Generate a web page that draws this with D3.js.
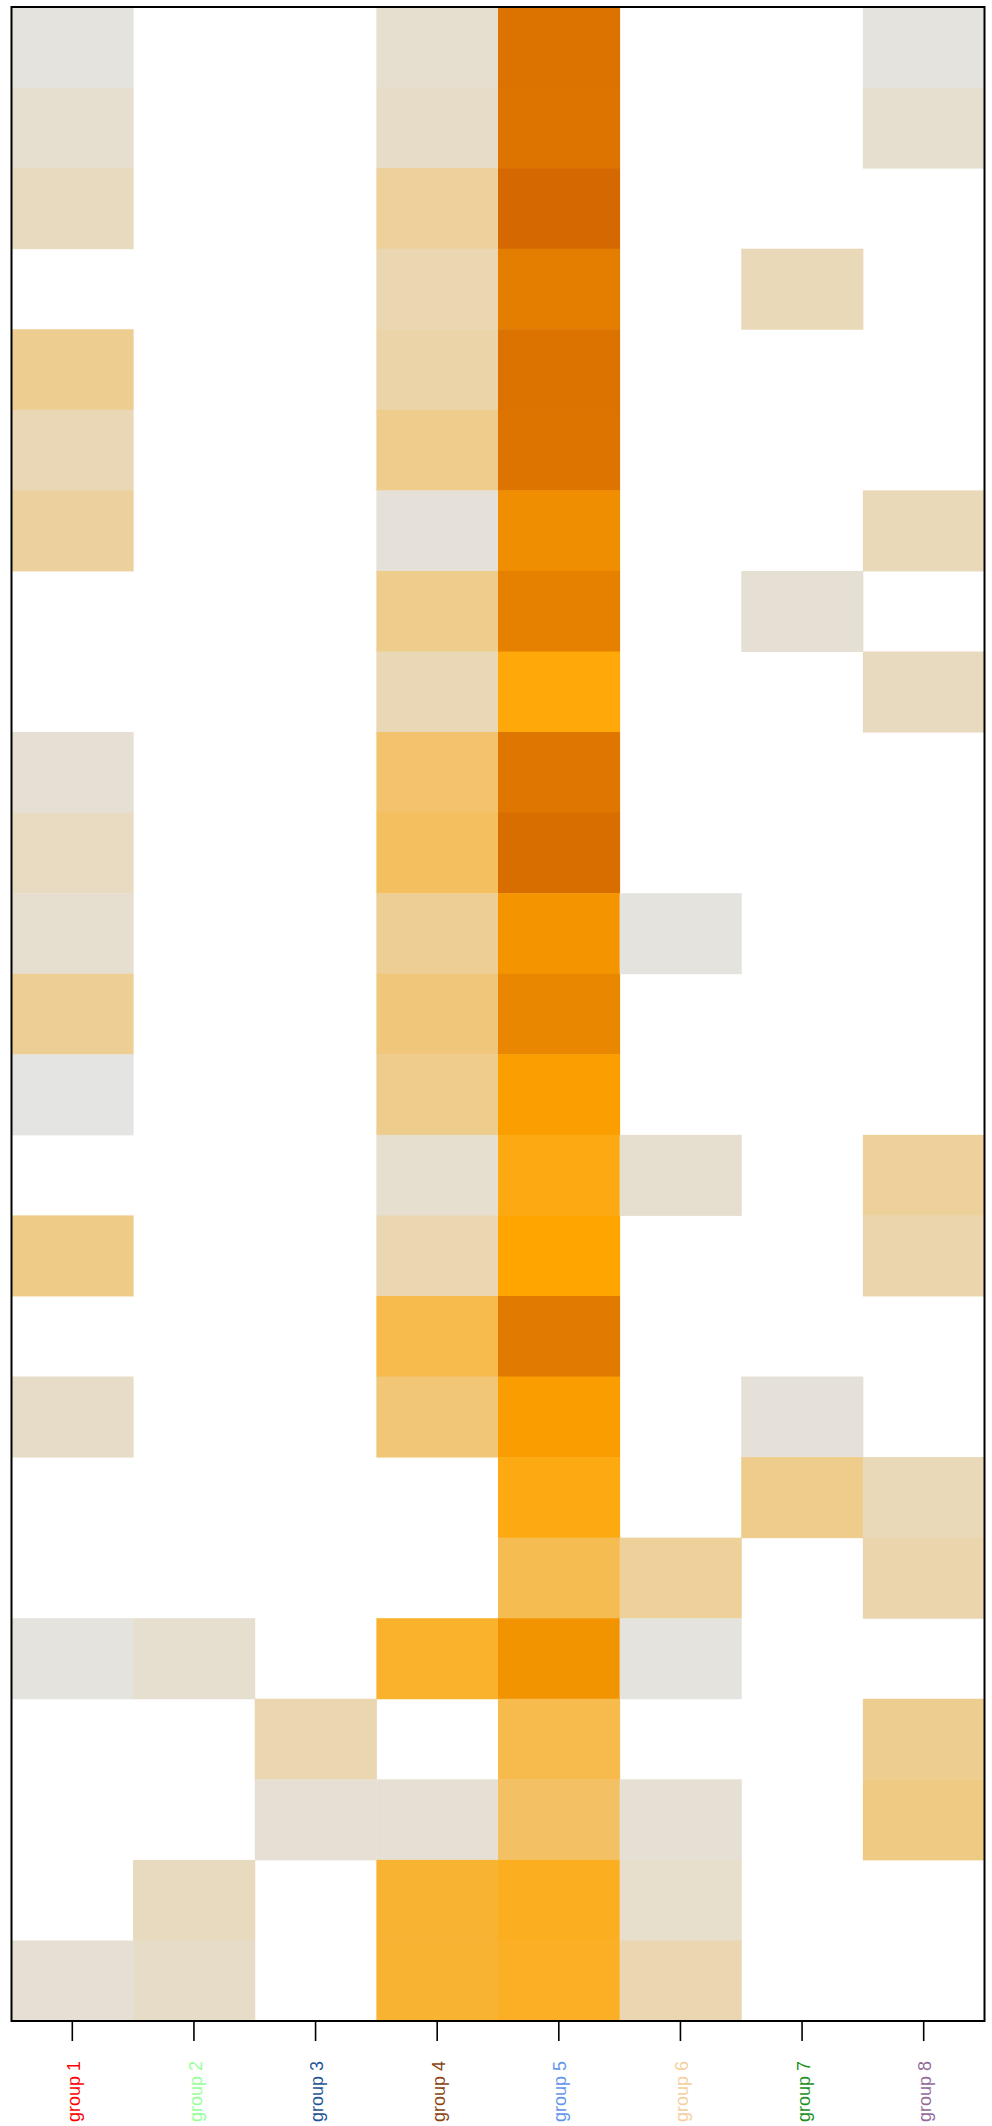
<!DOCTYPE html>
<html>
<head>
<meta charset="utf-8">
<script src="https://cdn.jsdelivr.net/npm/d3@7"></script>
<style>
  body { margin: 0; background: #fff; }
  svg { display: block; }
  .lbl text { font-family: "Liberation Sans", Arial, sans-serif; font-size: 18px; }
</style>
</head>
<body>
<div id="chart"></div>
<script>
// column groups and their label colours
var groups = ["group 1", "group 2", "group 3", "group 4", "group 5", "group 6", "group 7", "group 8"];
var groupColors = ["#ff0000", "#99ff99", "#1f5596", "#8b4513", "#6495ed", "#f5cf9f", "#229122", "#926b9c"];

// 25 rows, top to bottom
var rows = d3.range(1, 26).map(function (i) { return "row " + i; });

// values per group (null = empty cell)
var group1 = [1, 4, 8, null, 18, 10, 15, null, null, 3, 7, 4, 17, 0, null, 20, null, 6, null, null, 1, null, null, null, 3];
var group2 = [null, null, null, null, null, null, null, null, null, null, null, null, null, null, null, null, null, null, null, null, 4, null, null, 8, 6];
var group3 = [null, null, null, null, null, null, null, null, null, null, null, null, null, null, null, null, null, null, null, null, null, 11, 3, null, null];
var group4 = [4, 6, 16, 11, 13, 19, 2, 19, 10, 26, 29, 17, 23, 19, 4, 11, 33, 24, null, null, 40, null, 3, 39, 39];
var group5 = [89, 88, 97, 80, 89, 88, 68, 78, 48, 86, 93, 62, 73, 55, 46, 50, 83, 56, 46, 32, 64, 33, 28, 43, 42];
var group6 = [null, null, null, null, null, null, null, null, null, null, null, 1, null, null, 4, null, null, null, null, 16, 1, null, 3, 5, 11];
var group7 = [null, null, null, 9, null, null, null, 3, null, null, null, null, null, null, null, null, null, 2, 19, null, null, null, null, null, null];
var group8 = [1, 4, null, null, null, null, 9, null, 8, null, null, null, null, null, 16, 12, null, null, 9, 12, null, 18, 21, null, null];

var series = [group1, group2, group3, group4, group5, group6, group7, group8];

var width = 992, height = 2126;
var plotLeft = 11.5, plotRight = 984.5, plotTop = 7, plotBottom = 2021;

var svg = d3.select("#chart").append("svg")
    .attr("width", width)
    .attr("height", height);

var x = d3.scaleBand().domain(groups).range([plotLeft, plotRight]).padding(0);
var y = d3.scaleBand().domain(rows).range([plotTop, plotBottom]).padding(0);
var color = d3.scaleLinear()
    .domain([0, 50, 100])
    .range(["#e4e4e2", "#ffa500", "#d26400"]);

var cells = [];
series.forEach(function (vals, gi) {
    vals.forEach(function (v, ri) {
        if (v != null) cells.push({ group: groups[gi], row: rows[ri], value: v });
    });
});

svg.append("g").selectAll("rect")
    .data(cells)
    .enter().append("rect")
    .attr("x", function (d) { return x(d.group); })
    .attr("y", function (d) { return y(d.row); })
    .attr("width", x.bandwidth() + 0.5)
    .attr("height", y.bandwidth() + 0.5)
    .style("fill", function (d) { return color(d.value); });

// frame
svg.append("rect")
    .attr("x", plotLeft)
    .attr("y", plotTop)
    .attr("width", plotRight - plotLeft)
    .attr("height", plotBottom - plotTop)
    .attr("fill", "none")
    .attr("stroke", "#000")
    .attr("stroke-width", 2);

// bottom axis with coloured, rotated labels
var ax = svg.append("g")
    .attr("class", "lbl")
    .attr("transform", "translate(0," + plotBottom + ")")
    .call(d3.axisBottom(x).tickSize(20).tickSizeOuter(0));
ax.select(".domain").remove();
ax.selectAll(".tick line").attr("stroke", "#000").attr("stroke-width", 1.6);
ax.selectAll(".tick text")
    .attr("transform", "rotate(-90)")
    .attr("x", -40)
    .attr("y", 0)
    .attr("dy", "0.42em")
    .style("text-anchor", "end")
    .style("fill", function (d, i) { return groupColors[i]; });
</script>
</body>
</html>
